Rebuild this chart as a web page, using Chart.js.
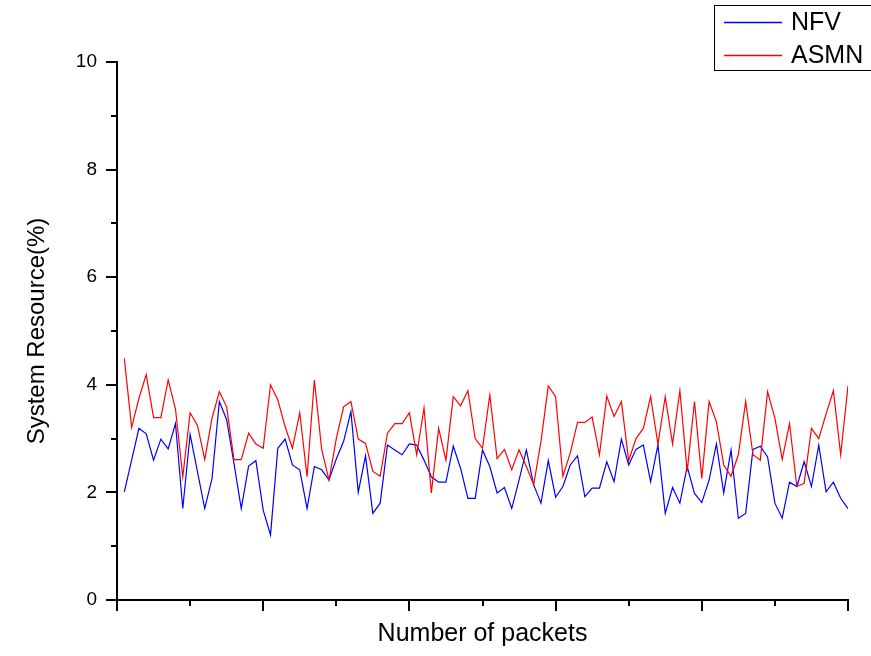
<!DOCTYPE html>
<html>
<head>
<meta charset="utf-8">
<script src="https://cdn.jsdelivr.net/npm/chart.js@4.4.1/dist/chart.umd.min.js"></script>
<style>
  html, body { margin: 0; padding: 0; background: #ffffff; }
  #wrap { width: 871px; height: 656px; }
</style>
</head>
<body>
<div id="wrap"><canvas id="c" width="871" height="656"></canvas></div>
<script>
// ---- data ----
const seriesNames = ["NFV", "ASMN"];
const packets = Array.from({ length: 100 }, (_, i) => i + 1);
const nfv = [
  2.01, 2.60, 3.19, 3.09, 2.60, 2.99, 2.81, 3.28, 1.70, 3.08,
  2.39, 1.70, 2.26, 3.69, 3.35, 2.54, 1.70, 2.49, 2.59, 1.67,
  1.21, 2.82, 2.99, 2.51, 2.42, 1.70, 2.48, 2.42, 2.23, 2.62,
  2.95, 3.50, 2.00, 2.68, 1.61, 1.80, 2.88, 2.79, 2.70, 2.90,
  2.88, 2.60, 2.29, 2.19, 2.19, 2.86, 2.45, 1.89, 1.89, 2.79,
  2.48, 1.99, 2.09, 1.70, 2.23, 2.79, 2.14, 1.80, 2.59, 1.91,
  2.11, 2.51, 2.68, 1.92, 2.08, 2.08, 2.57, 2.20, 2.99, 2.51,
  2.80, 2.88, 2.20, 2.88, 1.61, 2.09, 1.80, 2.48, 1.98, 1.81,
  2.23, 2.90, 1.99, 2.79, 1.52, 1.61, 2.80, 2.86, 2.66, 1.80,
  1.52, 2.19, 2.11, 2.57, 2.11, 2.88, 2.01, 2.19, 1.89, 1.70
];
const asmn = [
  4.49, 3.21, 3.75, 4.19, 3.39, 3.39, 4.09, 3.55, 2.29, 3.48,
  3.25, 2.61, 3.38, 3.87, 3.59, 2.61, 2.61, 3.10, 2.90, 2.82,
  4.00, 3.72, 3.22, 2.82, 3.48, 2.29, 4.09, 2.80, 2.23, 3.00,
  3.59, 3.69, 2.99, 2.91, 2.39, 2.30, 3.10, 3.28, 3.28, 3.48,
  2.70, 3.57, 1.99, 3.19, 2.60, 3.78, 3.61, 3.89, 3.00, 2.82,
  3.81, 2.63, 2.80, 2.42, 2.79, 2.48, 2.14, 2.95, 3.98, 3.78,
  2.30, 2.73, 3.30, 3.30, 3.40, 2.70, 3.79, 3.41, 3.69, 2.59,
  3.00, 3.19, 3.78, 2.90, 3.78, 2.90, 3.89, 2.39, 3.69, 2.26,
  3.69, 3.31, 2.51, 2.30, 2.70, 3.69, 2.70, 2.60, 3.87, 3.38,
  2.61, 3.28, 2.11, 2.17, 3.19, 3.00, 3.46, 3.89, 2.70, 3.98
];
const xMin = 0, xMax = 100, xMajorStep = 20, xMinorStep = 10;
const yMin = 0, yMax = 10, yMajorStep = 2, yMinorStep = 1;
const xTitle = "Number of packets";
const yTitle = "System Resource(%)";

const FONT = "'Liberation Sans', Arial, sans-serif";
const colors = ["#0000ff", "#ff0000"];

// ticks outward with major/minor lengths, drawn via the library's scales
const outwardTicks = {
  id: 'outwardTicks',
  afterDraw(chart) {
    const ctx = chart.ctx;
    const xs = chart.scales.x, ys = chart.scales.y;
    const area = chart.chartArea;
    ctx.save();
    ctx.strokeStyle = '#000';
    ctx.lineWidth = 2;
    ctx.beginPath();
    for (let v = xMin; v <= xMax + 1e-9; v += xMinorStep) {
      const px = Math.round(xs.getPixelForValue(v));
      const major = Math.abs(v / xMajorStep - Math.round(v / xMajorStep)) < 1e-9;
      ctx.moveTo(px, area.bottom);
      ctx.lineTo(px, area.bottom + (major ? 11 : 6));
    }
    for (let v = yMin; v <= yMax + 1e-9; v += yMinorStep) {
      const py = Math.round(ys.getPixelForValue(v));
      const major = Math.abs(v / yMajorStep - Math.round(v / yMajorStep)) < 1e-9;
      ctx.moveTo(area.left, py);
      ctx.lineTo(area.left - (major ? 11 : 6), py);
    }
    ctx.stroke();
    ctx.restore();
  }
};

// boxed legend at top right
const boxLegend = {
  id: 'boxLegend',
  afterDraw(chart) {
    const ctx = chart.ctx;
    ctx.save();
    ctx.strokeStyle = '#000';
    ctx.lineWidth = 1;
    ctx.strokeRect(714.5, 5.5, 170, 65);
    const rows = [22.5, 55.5];
    chart.data.datasets.forEach((ds, i) => {
      ctx.strokeStyle = ds.borderColor;
      ctx.lineWidth = 1.3;
      ctx.beginPath();
      ctx.moveTo(724, rows[i]);
      ctx.lineTo(782, rows[i]);
      ctx.stroke();
      ctx.fillStyle = '#000';
      ctx.font = "25px " + FONT;
      ctx.textBaseline = 'middle';
      ctx.textAlign = 'left';
      ctx.fillText(ds.label, 791, rows[i] + 1);
    });
    ctx.restore();
  }
};

new Chart(document.getElementById('c'), {
  type: 'line',
  data: {
    datasets: [
      {
        label: seriesNames[0],
        data: nfv.map((v, i) => ({ x: packets[i], y: v })),
        borderColor: colors[0],
        borderWidth: 1.2,
        pointRadius: 0,
        tension: 0,
        fill: false,
        order: 1
      },
      {
        label: seriesNames[1],
        data: asmn.map((v, i) => ({ x: packets[i], y: v })),
        borderColor: colors[1],
        borderWidth: 1.2,
        pointRadius: 0,
        tension: 0,
        fill: false,
        order: 0
      }
    ]
  },
  options: {
    responsive: false,
    animation: false,
    devicePixelRatio: 1,
    layout: { padding: { top: 62, right: 23, left: 0, bottom: 0 } },
    plugins: {
      legend: { display: false },
      tooltip: { enabled: false }
    },
    scales: {
      x: {
        type: 'linear',
        min: xMin,
        max: xMax,
        ticks: { display: false, stepSize: xMinorStep },
        grid: { display: true, drawOnChartArea: false, drawTicks: false },
        border: { display: true, color: '#000', width: 2 },
        title: {
          display: true,
          text: xTitle,
          color: '#000',
          font: { family: FONT, size: 25 },
          padding: { top: 0, bottom: 7 }
        },
        afterFit(scale) { scale.height = 56; }
      },
      y: {
        type: 'linear',
        min: yMin,
        max: yMax,
        ticks: {
          stepSize: yMajorStep,
          color: '#000',
          padding: 20,
          font: { family: FONT, size: 19 }
        },
        grid: { display: true, drawOnChartArea: false, drawTicks: false },
        border: { display: true, color: '#000', width: 2 },
        title: {
          display: true,
          text: yTitle,
          color: '#000',
          font: { family: FONT, size: 24 },
          padding: { top: 23, bottom: 0 }
        },
        afterFit(scale) { scale.width = 117; }
      }
    }
  },
  plugins: [outwardTicks, boxLegend]
});
</script>
</body>
</html>
